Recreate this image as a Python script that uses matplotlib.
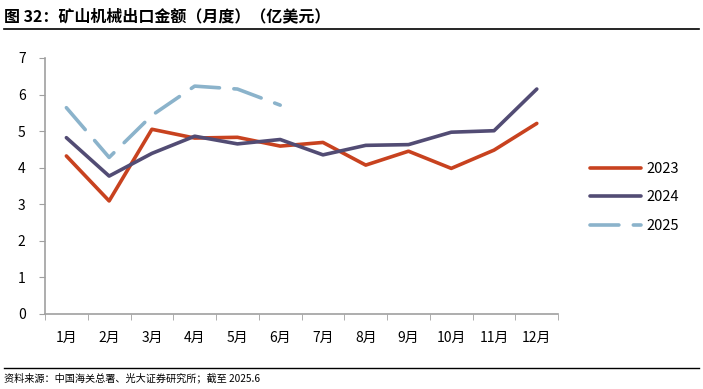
import matplotlib
matplotlib.use('Agg')
import matplotlib.pyplot as plt
from matplotlib.lines import Line2D
import numpy as np

plt.rcParams['font.family'] = ['Noto Sans CJK SC', 'DejaVu Sans']

months = ['1月', '2月', '3月', '4月', '5月', '6月', '7月', '8月', '9月', '10月', '11月', '12月']
y2023 = [4.32, 3.09, 5.05, 4.81, 4.83, 4.59, 4.69, 4.07, 4.45, 3.98, 4.48, 5.21]
y2024 = [4.82, 3.77, 4.39, 4.86, 4.65, 4.77, 4.35, 4.61, 4.63, 4.97, 5.01, 6.15]
y2025 = [5.64, 4.28, 5.43, 6.23, 6.15, 5.71]
yticks = [0, 1, 2, 3, 4, 5, 6, 7]

c23 = '#C8421F'
c24 = '#524C74'
c25 = '#8BB3CB'
grey = '#A0A0A0'

fig = plt.figure(figsize=(7.03, 3.89), dpi=100)
ax = fig.add_axes([0.064, 0.193, 0.73, 0.658])

x = np.arange(len(months))
lw = 2.6
ax.plot(x, y2023, color=c23, lw=lw, solid_capstyle='round', label='2023')
ax.plot(x, y2024, color=c24, lw=lw, solid_capstyle='round', label='2024')
ax.plot(np.arange(len(y2025)), y2025, color=c25, lw=lw, dashes=(8, 4),
        dash_capstyle='round', label='2025')

ax.set_xlim(-0.5, len(months) - 0.5)
ax.set_ylim(0, 7)
ax.set_yticks(yticks)
ax.set_xticks(x)
ax.set_xticklabels(months)
ax.set_xticks(np.arange(-0.5, len(months)), minor=True)
ax.tick_params(axis='x', which='major', length=0, pad=12, labelsize=10)
ax.tick_params(axis='x', which='minor', length=4, color=grey, direction='out')
ax.tick_params(axis='y', length=4, color=grey, direction='out', pad=10, labelsize=10)
for s in ['top', 'right']:
    ax.spines[s].set_visible(False)
for s in ['left', 'bottom']:
    ax.spines[s].set_color(grey)
    ax.spines[s].set_linewidth(1.2)

ax.legend(loc='center left', bbox_to_anchor=(1.036, 0.455), frameon=False,
          fontsize=10.5, handlelength=3.5, labelspacing=1.0, handletextpad=0.4)

# title and footer
fig.text(0.005, 0.957, '图 32：矿山机械出口金额（月度）（亿美元）', fontsize=11.5,
         fontweight='bold', va='center', ha='left')
fig.add_artist(Line2D([0.005, 0.995], [0.926, 0.926], color='black', lw=1.2))
fig.add_artist(Line2D([0.005, 0.995], [0.055, 0.055], color='black', lw=1.0))
fig.text(0.005, 0.028, '资料来源：中国海关总署、光大证券研究所；截至 2025.6', fontsize=7.3,
         va='center', ha='left')

fig.savefig('out.png', dpi=100)
